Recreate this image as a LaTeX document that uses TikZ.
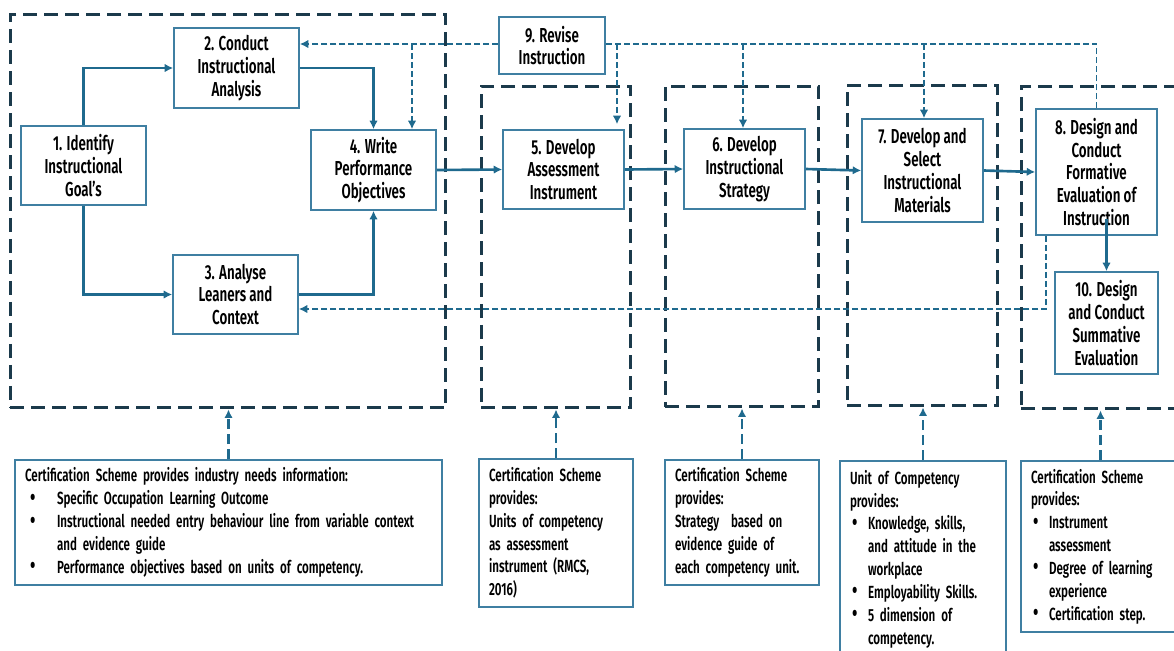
\documentclass[tikz,border=0pt]{standalone}
\usepackage{fontspec}
\setmainfont{Fira Sans}[FakeStretch=0.66, UprightFont={* SemiBold}]
\usetikzlibrary{arrows.meta, calc, positioning}
\definecolor{navy}{HTML}{1B3A4B}
\definecolor{lineblue}{HTML}{1F6A8E}
\definecolor{boxblue}{HTML}{3F7FA2}
\newcommand{\dotmark}{\raisebox{-0.05ex}{\scalebox{1.35}{\textbullet}}}
\newcommand{\bul}{\makebox[0.36cm][l]{\hspace{0.04cm}\dotmark}}
\newcommand{\ind}{\hspace*{0.36cm}}
\newcommand{\bulA}{\makebox[0.64cm][l]{\hspace{0.1cm}\dotmark}}
\newcommand{\indA}{\hspace*{0.64cm}}

\begin{document}
\begin{tikzpicture}[x=0.02cm, y=-0.02cm, >={Latex[length=1.7mm,width=1.7mm]},
  stage/.style={draw=boxblue, line width=0.9pt, fill=white, align=center, inner sep=2pt, font=\fontsize{11.5}{13}\selectfont},
  note/.style={draw=boxblue, line width=0.9pt, fill=white, align=left, inner xsep=0.2cm, inner ysep=2pt, font=\fontsize{10}{13}\selectfont},
  group/.style={draw=navy, line width=1.7pt, dash pattern=on 0.28cm off 0.14cm},
  flow/.style={draw=lineblue, line width=1.5pt},
  back/.style={draw=lineblue, line width=1.1pt, dash pattern=on 0.12cm off 0.06cm},
  inlink/.style={draw=lineblue, line width=1.4pt, dash pattern=on 0.2cm off 0.1cm}]
\useasboundingbox (0,0) rectangle (1174,650);

% dashed phase groups
\node[group, minimum width=8.72cm, minimum height=7.88cm] (G1) at (228,211) {};
\node[group, minimum width=3.00cm, minimum height=6.44cm] (G2) at (556,247) {};
\node[group, minimum width=3.08cm, minimum height=6.42cm] (G3) at (742,246.5) {};
\node[group, minimum width=3.02cm, minimum height=6.42cm] (G4) at (922.5,245.5) {};
\node[group, minimum width=3.38cm, minimum height=6.46cm] (G5) at (1105.5,247.5) {};

% steps
\node[stage, minimum width=2.5cm, minimum height=1.58cm] (B1) at (83.5,165.5) {1. Identify\\Instructional\\Goal's};
\node[stage, minimum width=2.5cm, minimum height=1.6cm] (B2) at (236.5,68) {2. Conduct\\Instructional\\Analysis};
\node[stage, minimum width=2.5cm, minimum height=1.58cm] (B3) at (235.5,294.5) {3. Analyse\\Leaners and\\Context};
\node[stage, minimum width=2.5cm, minimum height=1.6cm] (B4) at (373.5,170) {4. Write\\Performance\\Objectives};
\node[stage, minimum width=2.42cm, minimum height=1.58cm] (B5) at (563.5,169.5) {5. Develop\\Assessment\\Instrument};
\node[stage, minimum width=2.42cm, minimum height=1.6cm] (B6) at (744.5,169) {6. Develop\\Instructional\\Strategy};
\node[stage, minimum width=2.42cm, minimum height=2.06cm] (B7) at (922.5,170.5) {7. Develop and\\Select\\Instructional\\Materials};
\node[stage, minimum width=2.42cm, minimum height=2.52cm] (B8) at (1096.5,172) {8. Design and\\Conduct\\Formative\\Evaluation of\\Instruction};
\node[stage, minimum width=2.12cm, minimum height=1.14cm] (B9) at (552,45.5) {9. Revise\\Instruction};
\node[stage, minimum width=2.06cm, minimum height=2.04cm] (B10) at (1106.5,323) {10. Design\\and Conduct\\Summative\\Evaluation};

% certification notes
\node[note, text width=8.14cm, minimum height=2.5cm] (N1) at (228.5,522.5) {Certification Scheme provides industry needs information:\\\bulA Specific Occupation Learning Outcome\\\mbox{\bulA Instructional needed entry behaviour line from variable context}\\\indA and evidence guide\\\bulA Performance objectives based on units of competency.};
\node[note, text width=2.68cm, minimum height=2.96cm] (N5) at (556,533) {Certification Scheme\\provides:\\Units of competency\\as assessment\\instrument (RMCS,\\2016)};
\node[note, text width=2.68cm, minimum height=2.5cm] (N6) at (742,522.5) {Certification Scheme\\provides:\\Strategy\ \ based on\\evidence guide of\\each competency unit.};
\node[note, text width=2.92cm, minimum height=3.92cm] (N7) at (923,559) {Unit of Competency\\provides:\\\bul Knowledge, skills,\\\ind and attitude in the\\\ind workplace\\\bul Employability Skills.\\\bul 5 dimension of\\\ind competency.};
\node[note, text width=2.78cm, minimum height=3.42cm] (N8) at (1100.5,546.5) {Certification Scheme\\provides:\\\bul Instrument\\\ind assessment\\\bul Degree of learning\\\ind experience\\\bul Certification step.};

% main flow
\draw[flow,->] (B1.north) |- (B2.west);
\draw[flow,->] (B2.east) -| (B4.north);
\draw[flow,->] (B1.south) |- (B3.west);
\draw[flow,->] (B3.east) -| (B4.south);
\draw[flow,->] (B4.east) -- (B5.west);
\draw[flow,->] (B5.east) -- (B6.west);
\draw[flow,->] (B6.east) -- (B7.west);
\draw[flow,->] (B7.east) -- (B8.west);
\draw[flow,->] ($(B8.south -| B10.north)+(0,-17)$) -- (B10.north);

% revision feedback
\coordinate (t4) at (412,44);
\coordinate (t5) at (617,44);
\coordinate (t6) at (743,44);
\coordinate (t7) at (924,44);
\coordinate (t8) at (B8.north |- t4);
\coordinate (l8) at (1046,309);
\draw[back,->] (B9.west |- t4) -- (t4 -| B2.east);
\draw[back,->] (t4) -- (t4 |- B4.north);
\draw[back] (B8.north) -- (t8) -- (t8 -| B9.east);
\draw[back,->] (t5) -- ($(t5 |- B5.north)+(0,-5)$);
\draw[back,->] (t6) -- (t6 |- B6.north);
\draw[back,->] (t7) -- (t7 |- B7.north);
\draw[back,->] (B8.south -| l8) -- (l8) -- (l8 -| B3.east);

% inputs from certification
\draw[inlink,->] (N1.north) -- (N1.north |- G1.south);
\draw[inlink,->] (N5.north) -- (N5.north |- G2.south);
\draw[inlink,->] (N6.north) -- (N6.north |- G3.south);
\draw[inlink,->] (N7.north) -- (N7.north |- G4.south);
\draw[inlink,->] (N8.north) -- (N8.north |- G5.south);
\end{tikzpicture}
\end{document}
